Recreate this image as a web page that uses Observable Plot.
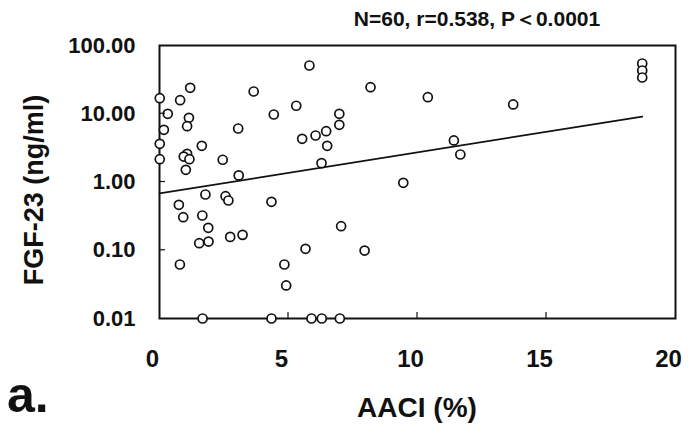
<!DOCTYPE html>
<html>
<head>
<meta charset="utf-8">
<script src="https://cdn.jsdelivr.net/npm/d3@7"></script>
<script src="https://cdn.jsdelivr.net/npm/@observablehq/plot@0.6"></script>
<style>
  html, body { margin: 0; padding: 0; background: #fff; }
  #chart svg { display: block; }
</style>
</head>
<body>
<div id="chart"></div>
<script>
// AACI (%) values of the 60 patients
const aaci = [5.81,1.19,3.65,0.01,0.80,5.30,0.32,4.43,1.14,1.07,6.97,6.97,3.05,0.17,6.46,6.05,5.53,6.50,0.01,1.64,
              1.07,0.94,1.16,0.01,2.45,1.02,6.28,3.07,1.78,2.56,2.67,4.34,0.75,0.92,1.66,1.89,1.54,1.90,2.74,3.22,
              5.66,0.79,4.84,4.91,1.67,4.34,5.89,6.29,6.99,8.18,10.40,13.71,11.41,11.66,9.45,7.04,7.95,18.71,18.71,18.71];
// FGF-23 (ng/ml) values
const fgf23 = [50.9,24.0,21.2,16.9,15.8,13.1,9.98,9.75,8.73,6.57,9.98,6.89,6.08,5.82,5.55,4.80,4.29,3.39,3.63,3.39,
               2.59,2.36,2.16,2.16,2.12,1.51,1.89,1.25,0.656,0.619,0.536,0.513,0.463,0.305,0.323,0.213,0.127,0.134,0.157,0.168,
               0.105,0.0618,0.0618,0.0305,0.01,0.01,0.01,0.01,0.01,24.5,17.5,13.7,4.06,2.53,0.973,0.225,0.099,54.5,43.0,34.0];
// Regression (trend) line end points
const trendX = [0, 18.71];
const trendY = [0.68, 9.1];
// Axis ticks
const xTicks = [0, 5, 10, 15, 20];
const yTicks = [0.01, 0.1, 1, 10, 100];
const titleText = "N=60, r=0.538, P＜0.0001";
const xLabel = "AACI (%)";
const yLabel = "FGF-23 (ng/ml)";
const panelLabel = "a.";

const points = aaci.map((x, i) => ({x, y: fgf23[i]}));
const trend = trendX.map((x, i) => ({x, y: trendY[i]}));

const FONT = "'Liberation Sans', Arial, Helvetica, sans-serif";
const INK = "#111";

const chart = Plot.plot({
  width: 690,
  height: 424,
  marginTop: 45,
  marginBottom: 106,
  marginLeft: 159,
  marginRight: 15,
  style: {fontFamily: FONT, background: "#fff", color: INK},
  x: {type: "linear", domain: [0, 20]},
  y: {type: "log", domain: [0.01, 100]},
  marks: [
    Plot.axisX(xTicks, {tickSize: 0, tickPadding: 31, dx: -7, fontSize: 24, fontWeight: "bold", label: null, tickFormat: d3.format("d"), fill: INK}),
    Plot.axisY(yTicks, {tickSize: 0, tickPadding: 24, fontSize: 22, fontWeight: "bold", label: null, tickFormat: d3.format(".2f"), fill: INK}),
    Plot.frame({stroke: INK, strokeWidth: 2}),
    Plot.line(trend, {x: "x", y: "y", stroke: INK, strokeWidth: 1.8}),
    Plot.dot(points, {x: "x", y: "y", r: 4.5, stroke: INK, strokeWidth: 1.7, fill: "#fff"})
  ]
});

document.getElementById("chart").appendChild(chart);

const svg = d3.select(chart);
const sx = chart.scale("x"), sy = chart.scale("y");
const x0 = sx.apply(0), yBottom = sy.apply(0.01);

// inside tick marks
const g = svg.append("g").attr("stroke", INK).attr("stroke-width", 1.2);
xTicks.slice(1, -1).forEach(v => {
  const px = sx.apply(v);
  g.append("line").attr("x1", px).attr("x2", px).attr("y1", yBottom).attr("y2", yBottom - 6);
});
yTicks.slice(1, -1).forEach(v => {
  const py = sy.apply(v);
  g.append("line").attr("x1", x0).attr("x2", x0 + 6).attr("y1", py).attr("y2", py);
});

// texts
svg.append("text").text(titleText)
  .attr("x", 477).attr("y", 26).attr("text-anchor", "middle")
  .attr("font-family", FONT).attr("font-size", 21).attr("font-weight", "bold").attr("fill", INK);
svg.append("text").text(xLabel)
  .attr("x", 417).attr("y", 417).attr("text-anchor", "middle")
  .attr("font-family", FONT).attr("font-size", 28).attr("font-weight", "bold").attr("fill", INK);
svg.append("text").text(yLabel)
  .attr("transform", "translate(43,190) rotate(-90)").attr("text-anchor", "middle")
  .attr("font-family", FONT).attr("font-size", 27).attr("font-weight", "bold").attr("fill", INK);
svg.append("text").text(panelLabel)
  .attr("x", 7).attr("y", 412).attr("text-anchor", "start")
  .attr("font-family", FONT).attr("font-size", 50).attr("font-weight", "bold").attr("fill", INK);
</script>
</body>
</html>
